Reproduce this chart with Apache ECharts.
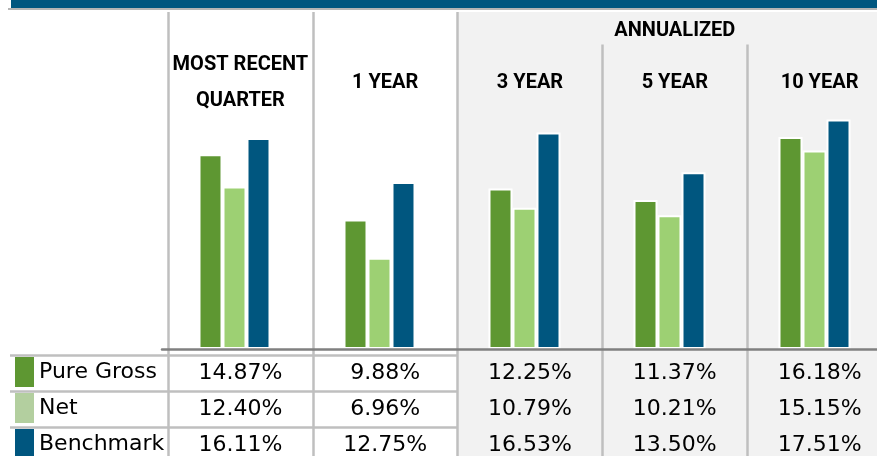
<!DOCTYPE html>
<html>
<head>
<meta charset="utf-8">
<script src="https://cdn.jsdelivr.net/npm/echarts@6/dist/echarts.min.js"></script>
<style>
  html, body { margin: 0; padding: 0; background: #fff; }
  #chart { width: 877px; height: 456px; }
</style>
</head>
<body>
<div id="chart"></div>
<script>
const categories = ['MOST RECENT\nQUARTER', '1 YEAR', '3 YEAR', '5 YEAR', '10 YEAR'];
const groupTitle = 'ANNUALIZED';
const seriesNames = ['Pure Gross', 'Net', 'Benchmark'];
const pureGross = [14.87, 9.88, 12.25, 11.37, 16.18];
const net = [12.40, 6.96, 10.79, 10.21, 15.15];
const benchmark = [16.11, 12.75, 16.53, 13.50, 17.51];

const colors = ['#5e9732', '#9dd073', '#00567f'];
const netSwatch = '#b3cf9f';
const sepColor = '#bfbfbf';
const headFont = "Roboto, 'Liberation Sans', sans-serif";
const bodyFont = "'DejaVu Sans', Verdana, sans-serif";

// layout of the table frame
const W = 877, H = 456;
const colLeft = 168, colRight = 892;
const colW = (colRight - colLeft) / categories.length;
const rowCenters = [373, 409, 445];

const chart = echarts.init(document.getElementById('chart'));

const hidden = {
  axisLine: { show: false, onZero: false },
  axisTick: { show: false },
  splitLine: { show: false },
  axisLabel: { show: false }
};

// one label axis per table row
const rowAxes = [pureGross, net, benchmark].map((vals, r) => ({
  gridIndex: 1,
  type: 'category',
  data: categories,
  position: 'bottom',
  offset: rowCenters[r] - H,
  axisLine: { show: false, onZero: false },
  axisTick: { show: false },
  splitLine: { show: false },
  axisLabel: {
    interval: 0,
    margin: 0,
    verticalAlign: 'middle',
    fontFamily: bodyFont,
    fontSize: 22,
    color: '#000',
    formatter: (v, i) => vals[i].toFixed(2) + '%'
  }
}));

chart.setOption({
  animation: false,
  grid: [
    // bars
    { left: 162, right: -10, top: 87, bottom: 107, outerBoundsMode: 'none' },
    // column frame + table text
    { left: colLeft, right: W - colRight, top: 12, bottom: 0, outerBoundsMode: 'none' },
    // table rows
    { left: 10, right: 0, top: 355, height: 108, outerBoundsMode: 'none' }
  ],
  legend: {
    orient: 'vertical',
    left: 15,
    top: 357,
    height: 120,
    padding: 0,
    itemWidth: 19,
    itemHeight: 30,
    itemGap: 6,
    icon: 'rect',
    selectedMode: false,
    itemStyle: { borderWidth: 0 },
    textStyle: { fontFamily: bodyFont, fontSize: 22, color: '#000' },
    data: [
      { name: seriesNames[0] },
      { name: seriesNames[1], itemStyle: { color: netSwatch } },
      { name: seriesNames[2] }
    ]
  },
  xAxis: [
    {
      gridIndex: 0,
      type: 'category',
      data: categories,
      z: 3,
      axisLine: { show: true, onZero: false, lineStyle: { color: '#808080', width: 2.5 } },
      axisTick: { show: false },
      axisLabel: { show: false },
      splitLine: { show: false }
    },
    {
      gridIndex: 1,
      type: 'category',
      data: categories,
      position: 'top',
      axisLine: { show: false, onZero: false },
      axisTick: { show: false },
      axisLabel: { show: false },
      splitLine: { show: true, interval: 0, lineStyle: { color: sepColor, width: 2.5 } },
      splitArea: {
        show: true,
        interval: 0,
        areaStyle: { color: ['rgba(0,0,0,0)', 'rgba(0,0,0,0)', '#f2f2f2', '#f2f2f2', '#f2f2f2'] }
      }
    },
    {
      gridIndex: 1,
      type: 'category',
      data: categories,
      position: 'top',
      offset: -71,
      axisLine: { show: false, onZero: false },
      axisTick: { show: false },
      splitLine: { show: false },
      axisLabel: {
        interval: 0,
        margin: 0,
        verticalAlign: 'middle',
        fontFamily: headFont,
        fontWeight: 'bold',
        fontSize: 20,
        lineHeight: 36,
        color: '#000'
      }
    },
    ...rowAxes,
    Object.assign({ gridIndex: 2, type: 'value' }, hidden)
  ],
  yAxis: [
    Object.assign({ gridIndex: 0, type: 'value', min: 0, max: 20 }, hidden),
    Object.assign({ gridIndex: 1, type: 'value', min: 0, max: 1 }, hidden),
    {
      gridIndex: 2,
      type: 'category',
      inverse: true,
      data: seriesNames,
      axisLine: { show: false },
      axisTick: { show: false },
      axisLabel: { show: false },
      splitLine: { show: true, interval: 0, lineStyle: { color: sepColor, width: 2.5 } }
    }
  ],
  series: [pureGross, net, benchmark].map((vals, i) => ({
    name: seriesNames[i],
    type: 'bar',
    xAxisIndex: 0,
    yAxisIndex: 0,
    barWidth: 24,
    barGap: '0%',
    itemStyle: { color: colors[i], borderColor: '#fff', borderWidth: 2 },
    data: vals
  })),
  graphic: [
    { type: 'rect', shape: { x: 11, y: 0, width: W - 11, height: 8 }, style: { fill: '#00567f' }, z: 20 },
    { type: 'rect', shape: { x: 8, y: 8, width: W - 8, height: 2 }, style: { fill: '#b4b4b4' }, z: 20 },
    // header strip above the annualized columns, covers the inner separators
    {
      type: 'rect',
      shape: { x: colLeft + 2 * colW + 1.5, y: 12, width: W, height: 32.5 },
      style: { fill: '#f2f2f2' },
      z: 20
    },
    {
      type: 'text',
      x: colLeft + 3.5 * colW,
      y: 31,
      z: 21,
      style: {
        text: groupTitle,
        align: 'center',
        verticalAlign: 'middle',
        font: 'bold 20px ' + headFont,
        fill: '#000'
      }
    }
  ]
});
</script>
</body>
</html>
